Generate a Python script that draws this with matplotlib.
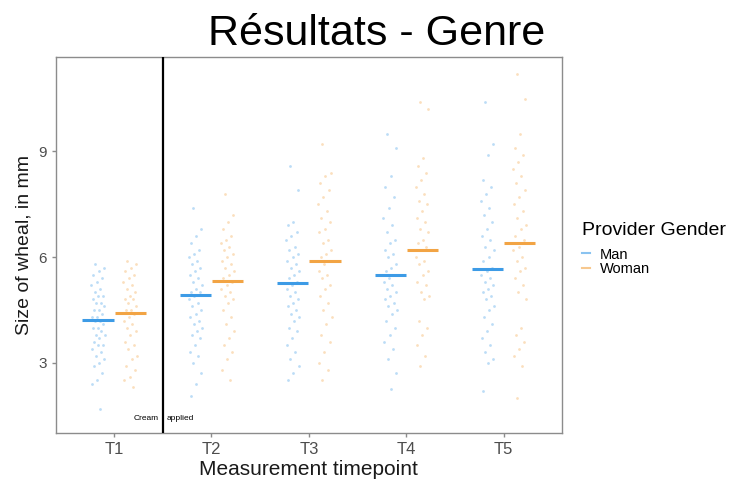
import numpy as np
import matplotlib.pyplot as plt
from matplotlib.lines import Line2D

plt.rcParams['font.family'] = ['Liberation Sans', 'DejaVu Sans']

# --- data ---
timepoints = ['T1', 'T2', 'T3', 'T4', 'T5']
genders = ['Man', 'Woman']

man_t1 = [5.8, 5.7, 5.6, 5.5, 5.4, 5.3, 5.2, 5.1, 5.0, 4.9, 4.9, 4.8, 4.7, 4.7, 4.6, 4.5, 4.5, 4.4,
          4.3, 4.3, 4.2, 4.2, 4.1, 4.0, 4.0, 3.9, 3.8, 3.8, 3.7, 3.6, 3.5, 3.5, 3.4, 3.3, 3.2, 3.1,
          3.0, 2.9, 2.7, 2.5, 2.4, 1.7]
man_t2 = [7.4, 6.8, 6.6, 6.4, 6.2, 6.1, 6.0, 5.9, 5.8, 5.7, 5.6, 5.5, 5.4, 5.3, 5.2, 5.1, 5.0, 5.0,
          4.9, 4.8, 4.7, 4.6, 4.5, 4.4, 4.3, 4.2, 4.1, 4.0, 3.9, 3.8, 3.7, 3.5, 3.3, 3.2, 3.0, 2.7,
          2.4, 2.05]
man_t3 = [8.6, 7.9, 7.0, 6.9, 6.7, 6.6, 6.5, 6.3, 6.2, 6.1, 6.0, 5.9, 5.8, 5.7, 5.6, 5.5, 5.4, 5.3,
          5.2, 5.1, 5.0, 4.9, 4.8, 4.7, 4.6, 4.5, 4.4, 4.3, 4.2, 4.0, 3.9, 3.7, 3.5, 3.3, 3.1, 2.9,
          2.7, 2.5]
man_t4 = [9.5, 9.1, 8.3, 8.0, 7.7, 7.4, 7.1, 6.9, 6.7, 6.5, 6.4, 6.2, 6.1, 6.0, 5.8, 5.7, 5.6, 5.5,
          5.4, 5.3, 5.2, 5.1, 5.0, 4.9, 4.8, 4.7, 4.6, 4.5, 4.4, 4.2, 4.0, 3.8, 3.6, 3.4, 3.1, 2.7,
          2.25]
man_t5 = [10.4, 9.2, 8.9, 8.2, 8.0, 7.8, 7.6, 7.4, 7.2, 7.0, 6.8, 6.6, 6.5, 6.3, 6.2, 6.0, 5.9, 5.7,
          5.6, 5.5, 5.4, 5.3, 5.2, 5.1, 5.0, 4.9, 4.8, 4.6, 4.5, 4.3, 4.1, 3.9, 3.7, 3.5, 3.3, 3.1,
          3.0, 2.2]

woman_t1 = [5.9, 5.8, 5.7, 5.6, 5.5, 5.4, 5.3, 5.2, 5.1, 5.0, 4.9, 4.8, 4.8, 4.7, 4.6, 4.5, 4.5, 4.4,
            4.3, 4.2, 4.1, 4.0, 3.9, 3.8, 3.6, 3.5, 3.4, 3.2, 3.1, 2.9, 2.8, 2.6, 2.5, 2.3]
woman_t2 = [7.8, 7.2, 7.0, 6.8, 6.6, 6.5, 6.4, 6.3, 6.2, 6.1, 6.0, 5.9, 5.8, 5.7, 5.6, 5.5, 5.4, 5.3,
            5.2, 5.1, 5.0, 4.9, 4.8, 4.7, 4.5, 4.3, 4.1, 3.9, 3.7, 3.5, 3.3, 3.1, 2.8, 2.5]
woman_t3 = [9.2, 8.4, 8.3, 8.1, 7.9, 7.7, 7.5, 7.3, 7.1, 7.0, 6.8, 6.7, 6.5, 6.4, 6.2, 6.1, 6.0, 5.9,
            5.8, 5.6, 5.5, 5.4, 5.2, 5.1, 4.9, 4.7, 4.5, 4.3, 4.1, 3.8, 3.6, 3.3, 3.0, 2.8, 2.5]
woman_t4 = [10.4, 10.2, 8.8, 8.6, 8.4, 8.2, 8.0, 7.8, 7.6, 7.5, 7.3, 7.1, 7.0, 6.8, 6.7, 6.5, 6.4,
            6.3, 6.2, 6.0, 5.9, 5.8, 5.6, 5.5, 5.3, 5.2, 5.0, 4.9, 4.8, 4.2, 4.0, 3.8, 3.5, 3.2, 2.9]
woman_t5 = [11.2, 10.5, 9.5, 9.1, 8.9, 8.7, 8.5, 8.3, 8.1, 7.9, 7.7, 7.5, 7.3, 7.1, 6.9, 6.8, 6.6,
            6.5, 6.3, 6.2, 6.0, 5.9, 5.7, 5.6, 5.4, 5.2, 5.0, 4.8, 4.0, 3.8, 3.6, 3.4, 3.2, 2.9, 2.0]

man_means = [4.22, 4.93, 5.27, 5.50, 5.65]
woman_means = [4.42, 5.33, 5.89, 6.19, 6.41]

man_points = [man_t1, man_t2, man_t3, man_t4, man_t5]
woman_points = [woman_t1, woman_t2, woman_t3, woman_t4, woman_t5]

# --- styles ---
colors = {'Man': '#3d9be6', 'Woman': '#f2a444'}
dodge = {'Man': -0.165, 'Woman': 0.165}
jitter_w = 0.07
mean_w = 0.16

fig = plt.figure(figsize=(7.32, 4.83), dpi=100)
ax = fig.add_axes([0.0761, 0.1029, 0.6917, 0.7791])

x_pos = np.arange(1, len(timepoints) + 1)

for g, pts_all, means in [('Man', man_points, man_means), ('Woman', woman_points, woman_means)]:
    for i, pts in enumerate(pts_all):
        n = len(pts)
        # deterministic spread for jitter (golden ratio sequence)
        frac = (np.arange(n) * 0.618034 + 0.3) % 1.0
        xs = x_pos[i] + dodge[g] + (frac - 0.5) * 2 * jitter_w
        ax.scatter(xs, pts, s=4, color=colors[g], alpha=0.35, linewidths=0, zorder=2)
        xc = x_pos[i] + dodge[g]
        ax.plot([xc - mean_w, xc + mean_w], [means[i], means[i]], color=colors[g],
                lw=2.2, solid_capstyle='butt', zorder=3)

# cream applied marker
ax.axvline(1.5, color='black', lw=1.6, zorder=4)
ax.text(1.46, 1.42, 'Cream', fontsize=6, ha='right', va='center')
ax.text(1.54, 1.42, 'applied', fontsize=6, ha='left', va='center')

ax.set_xlim(0.4, 5.6)
ax.set_ylim(1.0, 11.68)
ax.set_xticks(x_pos)
ax.set_xticklabels(timepoints)
ax.set_yticks([3, 6, 9])

for s in ax.spines.values():
    s.set_color('#8c8c8c')
    s.set_linewidth(1.0)
ax.tick_params(colors='#8c8c8c', labelcolor='#4d4d4d', length=3, width=1, labelsize=11)
ax.tick_params(axis='x', labelsize=12)

ax.set_xlabel('Measurement timepoint', fontsize=15, color='#1a1a1a', labelpad=2)
ax.set_ylabel('Size of wheal, in mm', fontsize=14, color='#1a1a1a', labelpad=4)

fig.text(0.515, 0.907, 'Résultats - Genre', fontsize=31, ha='center', va='baseline', color='black')

handles = [Line2D([], [], color=colors[g], lw=1.5, alpha=0.6) for g in genders]
leg = ax.legend(handles, genders, title='Provider Gender', loc='upper left',
                bbox_to_anchor=(0.785, 0.555), bbox_transform=fig.transFigure,
                frameon=False, fontsize=10.5, title_fontsize=14, handlelength=0.55,
                handletextpad=0.7, labelspacing=0.05, borderpad=0)
leg._legend_box.align = 'left'
leg._legend_box.sep = 6

plt.savefig('out.png', dpi=100)
